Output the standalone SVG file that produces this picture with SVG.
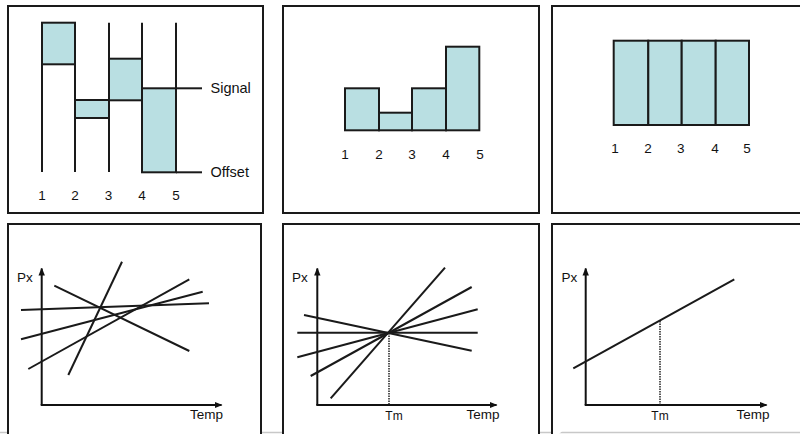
<svg xmlns="http://www.w3.org/2000/svg" width="800" height="434" viewBox="0 0 800 434">
<defs>
<marker id="ah" markerWidth="8" markerHeight="8" refX="7" refY="4" orient="auto" markerUnits="userSpaceOnUse">
<path d="M0,0.8 L8,4 L0,7.2 Z" fill="#111"/>
</marker>
<style>
.frame{fill:#fff;stroke:#1a1a1a;stroke-width:2}
.bar{fill:#b9dfe2;stroke:#1a1a1a;stroke-width:2}
.ln{stroke:#1a1a1a;stroke-width:2;fill:none}
.ax{stroke:#111;stroke-width:2;fill:none;marker-end:url(#ah)}
.dot{stroke:#222;stroke-width:1.5;stroke-dasharray:1.5 1;fill:none}
.t{font-family:"Liberation Sans",Arial,sans-serif;font-size:13.5px;fill:#111}
.s{font-family:"Liberation Sans",Arial,sans-serif;font-size:14.5px;fill:#111}
.n{font-family:"Liberation Sans",Arial,sans-serif;font-size:13.5px;fill:#111;text-anchor:middle}
</style>
</defs>
<rect width="800" height="434" fill="#fff"/>
<line x1="0" y1="432.5" x2="800" y2="432.5" stroke="#c8c8c8" stroke-width="1.5"/>

<g id="panel1">
<rect class="frame" x="8" y="6" width="255" height="207"/>
<rect class="bar" x="42" y="22.7" width="33" height="41.6"/>
<rect class="bar" x="75" y="100" width="34" height="18"/>
<rect class="bar" x="109" y="58.7" width="33" height="41.6"/>
<rect class="bar" x="142" y="88.3" width="34" height="84"/>
<line class="ln" x1="42" y1="22.7" x2="42" y2="172"/>
<line class="ln" x1="75" y1="22.7" x2="75" y2="172"/>
<line class="ln" x1="109" y1="22.7" x2="109" y2="172"/>
<line class="ln" x1="142" y1="22.7" x2="142" y2="172"/>
<line class="ln" x1="176" y1="22.7" x2="176" y2="172"/>
<line class="ln" x1="176" y1="88.3" x2="202" y2="88.3"/>
<line class="ln" x1="176" y1="172.3" x2="202" y2="172.3"/>
<text class="s" x="210.5" y="93">Signal</text>
<text class="s" x="210.5" y="177">Offset</text>
<text class="n" x="42" y="200">1</text>
<text class="n" x="75" y="200">2</text>
<text class="n" x="108.5" y="200">3</text>
<text class="n" x="142" y="200">4</text>
<text class="n" x="176" y="200">5</text>
</g>

<g id="panel2">
<rect class="frame" x="283" y="6" width="256" height="207"/>
<rect class="bar" x="345" y="88.3" width="34" height="42"/>
<rect class="bar" x="379" y="112.7" width="33" height="17.6"/>
<rect class="bar" x="412" y="88.3" width="34" height="42"/>
<rect class="bar" x="446" y="46.7" width="33.3" height="83.6"/>
<text class="n" x="345" y="158.5">1</text>
<text class="n" x="379" y="158.5">2</text>
<text class="n" x="412" y="158.5">3</text>
<text class="n" x="446" y="158.5">4</text>
<text class="n" x="480" y="158.5">5</text>
</g>

<g id="panel3">
<path class="frame" d="M801,6 H552 V213 H801"/>
<rect class="bar" x="613.7" y="40.7" width="34.6" height="84.3"/>
<rect class="bar" x="648.3" y="40.7" width="33.4" height="84.3"/>
<rect class="bar" x="681.7" y="40.7" width="34" height="84.3"/>
<rect class="bar" x="715.7" y="40.7" width="33.3" height="84.3"/>
<text class="n" x="615" y="153">1</text>
<text class="n" x="648" y="153">2</text>
<text class="n" x="680.7" y="153">3</text>
<text class="n" x="715" y="153">4</text>
<text class="n" x="747" y="153">5</text>
</g>

<g id="panel4">
<path class="frame" d="M8,440 V224 H261 V440"/>
<line class="ax" x1="41.7" y1="405" x2="41.7" y2="268.5"/>
<line class="ax" x1="40.7" y1="405" x2="221.5" y2="405"/>
<text class="t" x="17" y="282">Px</text>
<text class="t" x="190" y="419">Temp</text>
</g>

<g id="panel5">
<path class="frame" d="M283,440 V224 H539 V440"/>
<line class="ax" x1="317.3" y1="405" x2="317.3" y2="268.5"/>
<line class="ax" x1="316.3" y1="405" x2="496.5" y2="405"/>
<line class="dot" x1="389" y1="333" x2="389" y2="405"/>
<text class="t" x="292" y="282">Px</text>
<text class="n" x="394" y="420" style="font-size:12px">Tm</text>
<text class="t" x="466.5" y="419">Temp</text>
</g>

<g id="panel6">
<path class="frame" d="M801,224 H552 V440"/>
<line class="ax" x1="585.7" y1="405" x2="585.7" y2="268.5"/>
<line class="ax" x1="584.7" y1="405" x2="766.5" y2="405"/>
<line class="dot" x1="660" y1="321" x2="660" y2="405"/>
<text class="t" x="561.5" y="282">Px</text>
<text class="n" x="660" y="420" style="font-size:12px">Tm</text>
<text class="t" x="736.5" y="419">Temp</text>
</g>

<g id="connectors">
<line class="ln" x1="21" y1="310" x2="209" y2="303.3"/>
<line class="ln" x1="21" y1="339.3" x2="202.7" y2="291.7"/>
<line class="ln" x1="28.3" y1="369" x2="189.3" y2="279.3"/>
<line class="ln" x1="68.3" y1="375" x2="122" y2="261.7"/>
<line class="ln" x1="54.3" y1="285.7" x2="189.3" y2="351"/>
<line class="ln" x1="297.3" y1="332.7" x2="477.7" y2="332.7"/>
<line class="ln" x1="304" y1="315" x2="471.7" y2="350.7"/>
<line class="ln" x1="297.3" y1="357.3" x2="477.7" y2="309.3"/>
<line class="ln" x1="310.7" y1="376" x2="471.7" y2="287"/>
<line class="ln" x1="330.7" y1="398.3" x2="445" y2="267.7"/>
<line class="ln" x1="573.3" y1="368.3" x2="734.3" y2="279.3"/>
</g>
</svg>
